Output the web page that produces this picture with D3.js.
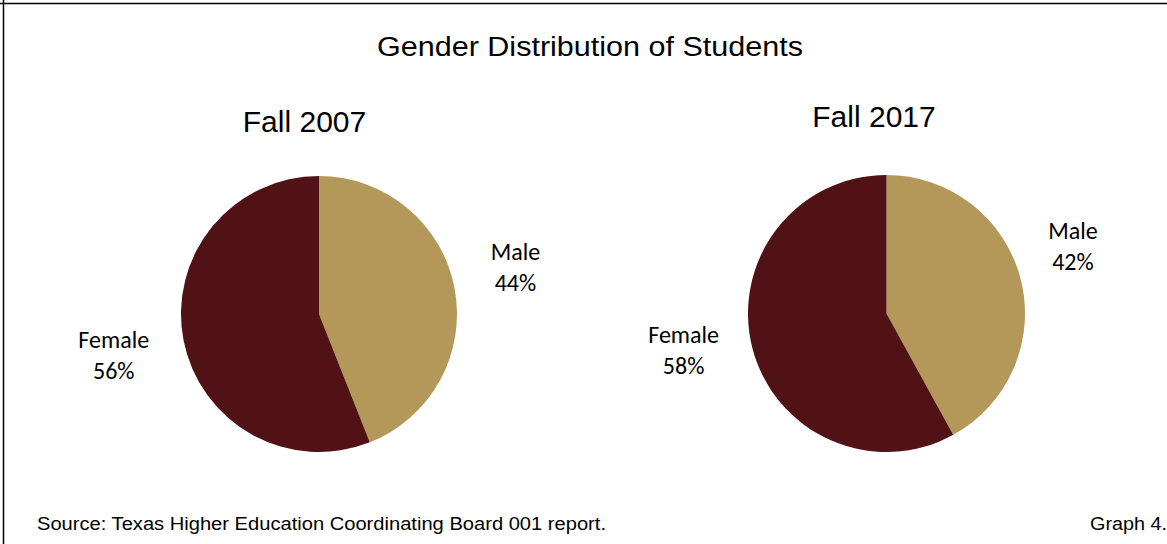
<!DOCTYPE html>
<html>
<head>
<meta charset="utf-8">
<script src="https://cdn.jsdelivr.net/npm/d3@7"></script>
<style>
  html, body { margin: 0; padding: 0; background: #fff; }
  svg { display: block; }
</style>
</head>
<body>
<svg id="chart" width="1167" height="544"></svg>
<script>
const title = "Gender Distribution of Students";
const categories = ["Male", "Female"];
const years = ["Fall 2007", "Fall 2017"];
const values2007 = [44, 56];
const values2017 = [42, 58];
const sourceText = "Source: Texas Higher Education Coordinating Board 001 report.";
const graphLabel = "Graph 4.";

const colors = d3.scaleOrdinal().domain(categories).range(["#B49859", "#511216"]);

const W = 1167, H = 544;
const svg = d3.select("#chart");
svg.append("rect").attr("width", W).attr("height", H).attr("fill", "#fff");

// frame lines (top and left)
svg.append("line").attr("x1", 0).attr("x2", W).attr("y1", 3.5).attr("y2", 3.5)
  .attr("stroke", "#000").attr("stroke-width", 1.5);
svg.append("line").attr("x1", 3.5).attr("x2", 3.5).attr("y1", 0).attr("y2", H)
  .attr("stroke", "#000").attr("stroke-width", 1.5);

svg.append("text").attr("x", 590).attr("y", 56).attr("text-anchor", "middle")
  .attr("font-family", "Liberation Sans, Arial, sans-serif").attr("font-size", 27)
  .attr("textLength", 426).attr("lengthAdjust", "spacingAndGlyphs")
  .attr("fill", "#000").text(title);

const pies = [
  { year: years[0], values: values2007, cx: 319, cy: 314, r: 138, titleX: 304.5, titleY: 132,
    labelR: [200, 209], labelDy: [-9, 2] },
  { year: years[1], values: values2017, cx: 886.5, cy: 313.5, r: 138.5, titleX: 874, titleY: 127,
    labelR: [192.5, 209.5], labelDy: [-19.5, -15.5] }
];

const pie = d3.pie().sort(null).value(d => d.value);

pies.forEach(p => {
  const g = svg.append("g").attr("transform", `translate(${p.cx},${p.cy})`);
  const data = categories.map((c, i) => ({ cat: c, value: p.values[i] }));
  const arcs = pie(data);
  const arc = d3.arc().innerRadius(0).outerRadius(p.r);
  g.selectAll("path").data(arcs).enter().append("path")
    .attr("d", arc).attr("fill", d => colors(d.data.cat));

  svg.append("text").attr("x", p.titleX).attr("y", p.titleY).attr("text-anchor", "middle")
    .attr("font-family", "Liberation Sans, Arial, sans-serif").attr("font-size", 30)
    .attr("fill", "#000").text(p.year);

  arcs.forEach((a, i) => {
    const la = d3.arc().innerRadius(p.labelR[i]).outerRadius(p.labelR[i]);
    const [lx, ly0] = la.centroid(a);
    const ly = ly0 + p.labelDy[i];
    const t = g.append("text").attr("text-anchor", "middle")
      .attr("font-family", "Carlito, Lato, sans-serif").attr("font-size", 24)
      .attr("fill", "#000");
    t.append("tspan").attr("x", lx).attr("y", ly - 15.5).attr("dy", "0.35em").text(a.data.cat);
    t.append("tspan").attr("x", lx).attr("y", ly + 15.5).attr("dy", "0.35em").text(a.data.value + "%");
  });
});

svg.append("text").attr("x", 37).attr("y", 529.5)
  .attr("font-family", "Liberation Sans, Arial, sans-serif").attr("font-size", 17.5)
  .attr("textLength", 569).attr("lengthAdjust", "spacingAndGlyphs")
  .attr("fill", "#000").text(sourceText);
svg.append("text").attr("x", 1090).attr("y", 529.5)
  .attr("font-family", "Liberation Sans, Arial, sans-serif").attr("font-size", 17.5)
  .attr("textLength", 77).attr("lengthAdjust", "spacingAndGlyphs")
  .attr("fill", "#000").text(graphLabel);
</script>
</body>
</html>
